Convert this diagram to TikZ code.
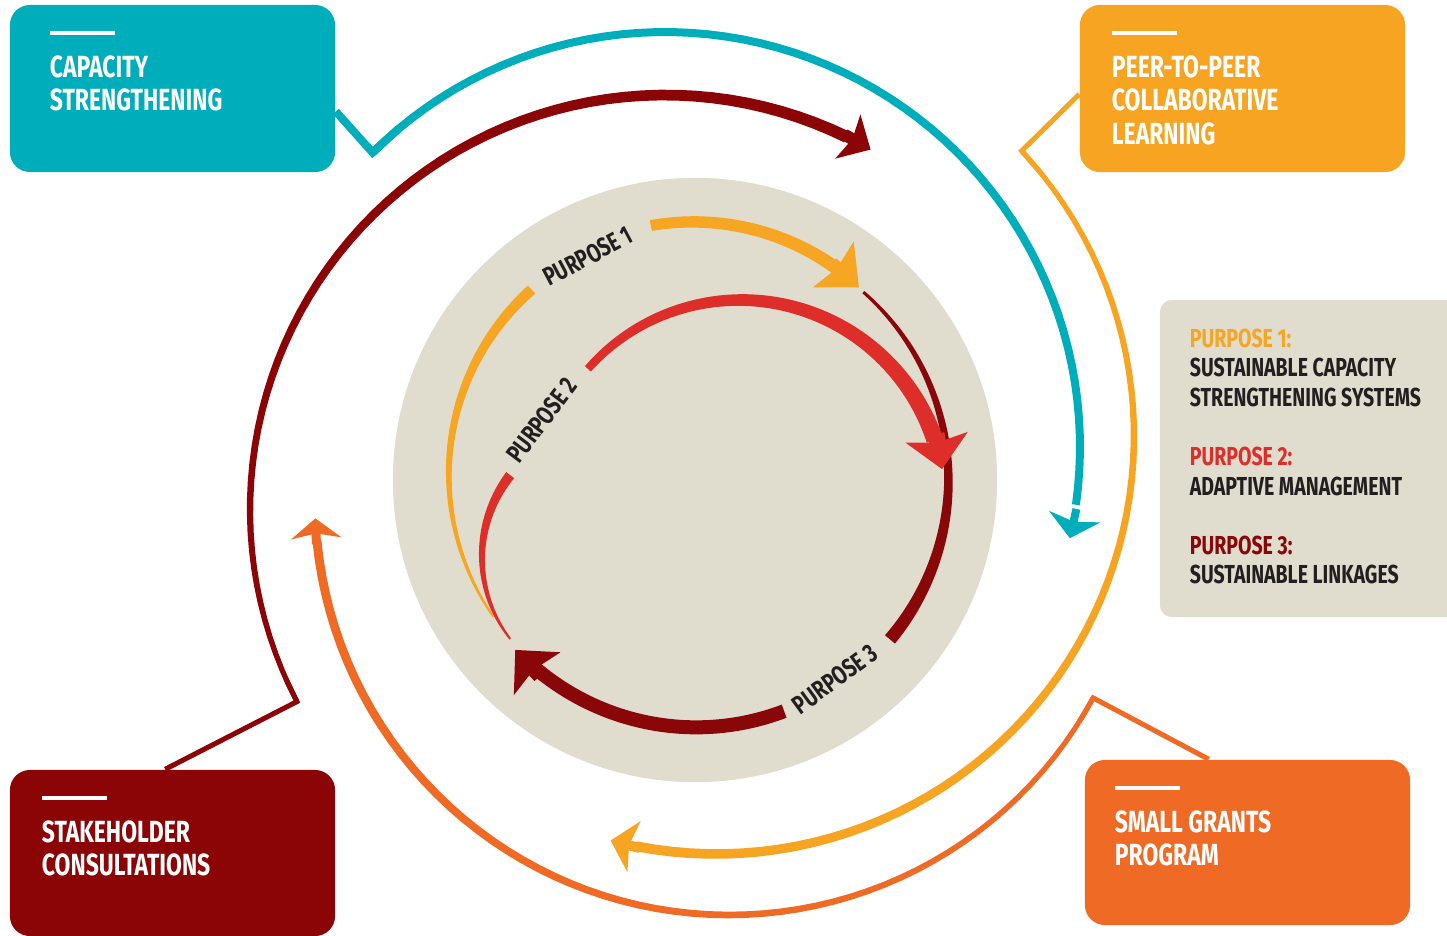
\documentclass[tikz,border=0pt]{standalone}
\usepackage{fontspec}
\newfontfamily\condfont[FakeStretch=0.75]{Fira Sans}
\usetikzlibrary{arrows.meta, positioning}

\definecolor{tealc}{RGB}{0,173,187}
\definecolor{peerc}{RGB}{246,164,33}
\definecolor{grantc}{RGB}{239,106,37}
\definecolor{stakec}{RGB}{139,4,6}
\definecolor{ponec}{RGB}{246,166,35}
\definecolor{ptwoc}{RGB}{222,46,42}
\definecolor{pthreec}{RGB}{138,7,9}
\definecolor{discgray}{RGB}{224,221,206}
\definecolor{inkc}{RGB}{35,31,32}

% colour, cx, cy, r0, r1, a0, a1, w0, w1
\newcommand{\taperarc}[9]{%
  \fill[#1] plot[domain=#6:#7, samples=60, variable=\t]
    ({#2+(#4+(#5-#4)*(\t-#6)/(#7-#6)+(#8+(#9-#8)*(\t-#6)/(#7-#6))/2)*cos(\t)},
     {#3+(#4+(#5-#4)*(\t-#6)/(#7-#6)+(#8+(#9-#8)*(\t-#6)/(#7-#6))/2)*sin(\t)})
    -- plot[domain=#7:#6, samples=60, variable=\t]
    ({#2+(#4+(#5-#4)*(\t-#6)/(#7-#6)-(#8+(#9-#8)*(\t-#6)/(#7-#6))/2)*cos(\t)},
     {#3+(#4+(#5-#4)*(\t-#6)/(#7-#6)-(#8+(#9-#8)*(\t-#6)/(#7-#6))/2)*sin(\t)})
    -- cycle;}
% colour, cx, cy, r, tip angle, line width, back, head length, head width
\newcommand{\archead}[9]{%
  \draw[#1, line width=#6, -{Stealth[length=#8, width=#9, inset=0.05cm]}]
    ({#2+#4*cos(#5)+#7*sin(#5)},{#3+#4*sin(#5)-#7*cos(#5)}) -- ({#2+#4*cos(#5)},{#3+#4*sin(#5)});}

\begin{document}
\begin{tikzpicture}[x=0.01cm, y=-0.01cm]
  \tikzstyle{callout}=[rectangle, rounded corners=0.2cm, minimum width=3.25cm, minimum height=1.67cm, inner sep=0pt]
  \tikzstyle{boxtext}=[font=\fontsize{8.7}{9.4}\condfont\bfseries, text=white, align=left, inner sep=0pt]
  \tikzstyle{keytext}=[font=\fontsize{7.4}{8.4}\condfont\bfseries, text=inkc, align=left, inner sep=0pt]
  \tikzstyle{purp}=[font=\fontsize{7.4}{8}\condfont\bfseries, text=inkc, inner sep=0pt]
  \useasboundingbox (0,0) rectangle (1447,935);

  % Boxes
  \node[callout, fill=tealc]   (cap)    at (172.5,88.5)  {};
  \node[callout, fill=peerc]   (peer)   at (1242.5,88.5) {};
  \node[callout, fill=grantc, minimum height=1.65cm] (grants) at (1247.5,842.5) {};
  \node[callout, fill=stakec, minimum height=1.66cm] (stake)  at (172.5,853)    {};
  \node[rectangle, rounded corners=0.12cm, fill=discgray, minimum width=3.2cm,
        minimum height=3.17cm] (key) at (1320,458.5) {};

  \node[boxtext, below right=0.265cm and 0.40cm of cap.north west] (captext)
    {\rule{0.65cm}{0.035cm}\\[2.8pt]CAPACITY\\STRENGTHENING};
  \node[boxtext, below right=0.265cm and 0.32cm of peer.north west] (peertext)
    {\rule{0.65cm}{0.035cm}\\[2.8pt]PEER-TO-PEER\\COLLABORATIVE\\LEARNING};
  \node[boxtext, below right=0.265cm and 0.30cm of grants.north west] (granttext)
    {\rule{0.65cm}{0.035cm}\\[2.8pt]SMALL GRANTS\\PROGRAM};
  \node[boxtext, below right=0.265cm and 0.32cm of stake.north west] (staketext)
    {\rule{0.65cm}{0.035cm}\\[2.8pt]STAKEHOLDER\\CONSULTATIONS};
  \node[keytext, below right=0.29cm and 0.30cm of key.north west] (keylist)
    {\textcolor{ponec}{PURPOSE 1:}\\SUSTAINABLE CAPACITY\\STRENGTHENING SYSTEMS\\[8.4pt]
     \textcolor{ptwoc}{PURPOSE 2:}\\ADAPTIVE MANAGEMENT\\[8.4pt]
     \textcolor{pthreec}{PURPOSE 3:}\\SUSTAINABLE LINKAGES};

  % Outer rings
  \coordinate (capnotch)   at ({665+415*cos(225.2)},{447+415*sin(225.2)});
  \coordinate (peernotch)  at ({716+418*cos(317)},{436+418*sin(317)});
  \coordinate (grantnotch) at ({729+414*cos(28.4)},{501+414*sin(28.4)});
  \coordinate (stakenotch) at ({665+415*cos(152.5)},{510+415*sin(152.5)});

  \draw[tealc, line width=0.08cm, line join=miter] (cap.-8.6) -- (capnotch)
    -- ({665+415*cos(230)},{447+415*sin(230)});
  \taperarc{tealc}{665}{447}{415}{415}{225.2}{368}{8}{8}
  \archead{tealc}{665}{447}{415}{372.7}{0.08cm}{30}{0.22cm}{0.52cm}

  \draw[peerc, line width=0.05cm, line join=miter] (peer.182) -- (peernotch)
    -- ({716+418*cos(321)},{436+418*sin(321)});
  \taperarc{peerc}{716}{436}{418}{418}{317}{461}{5}{10}
  \archead{peerc}{716}{436}{418}{464.6}{0.10cm}{30}{0.24cm}{0.52cm}

  \draw[grantc, line width=0.05cm, line join=miter] (grants.115.6) -- (grantnotch)
    -- ({729+414*cos(32)},{501+414*sin(32)});
  \taperarc{grantc}{729}{501}{414}{414}{28.4}{174.5}{5}{9}
  \archead{grantc}{729}{501}{414}{177.6}{0.09cm}{26}{0.20cm}{0.50cm}

  \draw[stakec, line width=0.05cm, line join=miter] (stake.95) -- (stakenotch)
    -- ({665+415*cos(156)},{510+415*sin(156)});
  \taperarc{stakec}{665}{510}{415}{415}{152.5}{296}{5}{12}
  \archead{stakec}{665}{510}{415}{299.7}{0.12cm}{30}{0.26cm}{0.50cm}

  % Inner disc
  \node[circle, fill=discgray, minimum size=6.04cm, inner sep=0pt] (disc) at (695,480) {};

  \taperarc{pthreec}{700}{480}{249}{248}{311}{400}{3}{13}
  \taperarc{pthreec}{700}{480}{246}{250}{70}{131}{14}{14}
  \archead{pthreec}{700}{480}{251}{137.4}{0.14cm}{36}{0.32cm}{0.62cm}

  \taperarc{ptwoc}{615}{557}{133}{133}{142}{218}{2}{10}
  \taperarc{ptwoc}{738}{504}{202}{207}{222}{342}{8}{17}
  \archead{ptwoc}{738}{504}{207}{350.3}{0.17cm}{36}{0.32cm}{0.62cm}

  \taperarc{ponec}{698}{468}{253}{244}{144}{227}{2}{11}
  \taperarc{ponec}{698}{468}{247}{243}{259}{305}{11}{13}
  \archead{ponec}{698}{468}{242}{311.7}{0.13cm}{36}{0.34cm}{0.60cm}

  \node[purp, rotate=28] (purp1) at (588,256) {PURPOSE 1};
  \node[purp, rotate=53] (purp2) at (542,420) {PURPOSE 2};
  \node[purp, rotate=36] (purp3) at (835,679) {PURPOSE 3};
\end{tikzpicture}
\end{document}
